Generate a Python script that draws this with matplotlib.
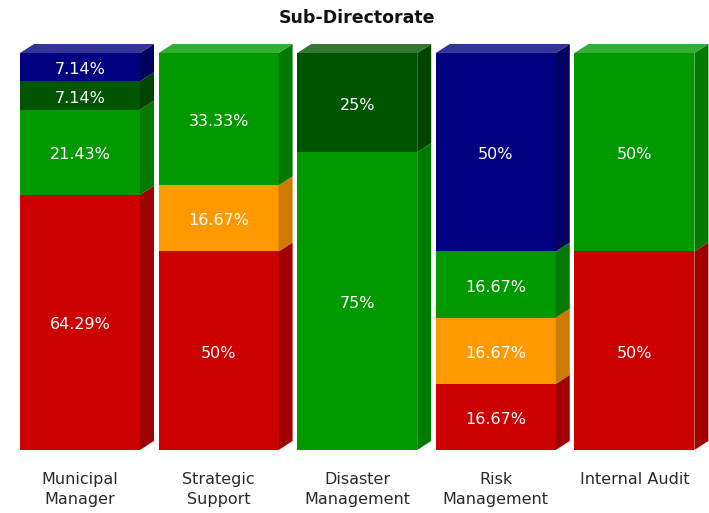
import matplotlib
matplotlib.use("Agg")
import matplotlib.pyplot as plt
from matplotlib.patches import Polygon

# Share of outcomes per sub-directorate (percent, stacked bottom to top)
categories = ["Municipal\nManager", "Strategic\nSupport", "Disaster\nManagement",
              "Risk\nManagement", "Internal Audit"]
not_achieved = [64.29, 50.00, 0.00, 16.67, 50.00]
partially = [0.00, 16.67, 0.00, 16.67, 0.00]
achieved = [21.43, 33.33, 75.00, 16.67, 50.00]
exceeded = [7.14, 0.00, 25.00, 0.00, 0.00]
well_exceeded = [7.14, 0.00, 0.00, 50.00, 0.00]
value_labels = [
    ["64.29%", "50%", "", "16.67%", "50%"],
    ["", "16.67%", "", "16.67%", ""],
    ["21.43%", "33.33%", "75%", "16.67%", "50%"],
    ["7.14%", "", "25%", "", ""],
    ["7.14%", "", "", "50%", ""],
]
title = "Sub-Directorate"

series = [not_achieved, partially, achieved, exceeded, well_exceeded]
# (front, side, top) face colours
palette = [
    ("#CC0000", "#A00000", "#D63333"),
    ("#FF9900", "#CC7A00", "#FFAD33"),
    ("#009900", "#007A00", "#33AD33"),
    ("#005500", "#004400", "#337733"),
    ("#000080", "#000060", "#333399"),
]

W, H = 709, 513
fig = plt.figure(figsize=(W / 100, H / 100), dpi=100)
ax = fig.add_axes([0, 0, 1, 1])

# pixel layout of the plotting region
step_px = 138.6
first_px = 80.0
base_px = 450.0
top_px = 53.0
px_per_unit_y = (base_px - top_px) / 100.0
ax.set_xlim(-first_px / step_px, (W - first_px) / step_px)
ax.set_ylim(-(H - base_px) / px_per_unit_y, 100 + top_px / px_per_unit_y)
ax.axis("off")

bar_w = 120 / step_px
dx = 14 / step_px
dy = 9 / px_per_unit_y
label_shift = 2.5 / px_per_unit_y  # value labels sit slightly below the segment middle

n = len(categories)
bottoms = [0.0] * n
stack_top = [sum(s[i] for s in series) for i in range(n)]
top_color = [None] * n
for k, vals in enumerate(series):
    front, side, topc = palette[k]
    for i, v in enumerate(vals):
        if v <= 0:
            continue
        b = bottoms[i]
        t = b + v
        ax.bar(i, v, bottom=b, width=bar_w, color=front, linewidth=0, zorder=2)
        xr = i + bar_w / 2
        ax.add_patch(Polygon([(xr, b), (xr + dx, b + dy), (xr + dx, t + dy), (xr, t)],
                             closed=True, facecolor=side, edgecolor="none", zorder=2))
        top_color[i] = topc
        lab = value_labels[k][i]
        if lab:
            ax.text(i, b + v / 2 - label_shift, lab, ha="center", va="center", color="white",
                    fontsize=11.5, family="DejaVu Sans", zorder=4)
        bottoms[i] = t

for i in range(n):
    xl = i - bar_w / 2
    xr = i + bar_w / 2
    t = stack_top[i]
    ax.add_patch(Polygon([(xl, t), (xl + dx, t + dy), (xr + dx, t + dy), (xr, t)],
                         closed=True, facecolor=top_color[i], edgecolor="none", zorder=3))
    ax.text(i, -(472 - base_px) / px_per_unit_y, categories[i], ha="center", va="top",
            color="#2a2a2a", fontsize=11.5, linespacing=1.45, family="DejaVu Sans")

fig.text(356.5 / W, 1 - 18 / H, title, ha="center", va="center", fontsize=12.5,
         fontweight="bold", color="#111111")

fig.savefig("out.png", dpi=100)
